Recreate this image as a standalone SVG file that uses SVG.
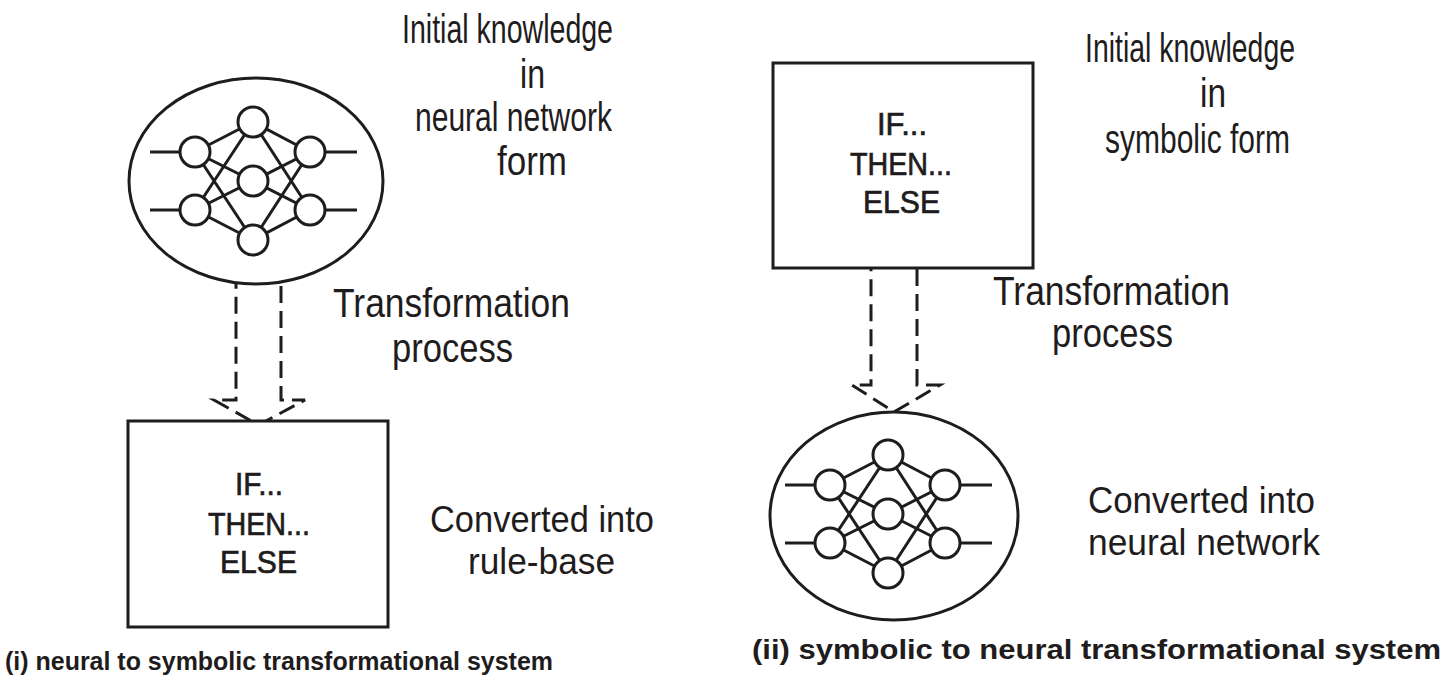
<svg xmlns="http://www.w3.org/2000/svg" xmlns:xlink="http://www.w3.org/1999/xlink" width="1444" height="688" viewBox="0 0 1444 688">
<style>
.ln{stroke:#1f1c1d;stroke-width:3;fill:none}
.nd{stroke:#1f1c1d;stroke-width:3;fill:#fff}
.sh{stroke:#1f1c1d;stroke-width:3;fill:#fff}
.ar{stroke:#1f1c1d;stroke-width:3;fill:none;stroke-dasharray:17 8;stroke-linejoin:miter}
.lb{font-family:"Liberation Sans",Arial,sans-serif;font-size:40px;fill:#1f1c1d}
.lc{font-family:"Liberation Sans",Arial,sans-serif;font-size:37px;fill:#1f1c1d}
.bx{font-family:"Liberation Sans",Arial,sans-serif;font-size:32px;fill:#1f1c1d;stroke:#1f1c1d;stroke-width:0.7}
.cp{font-family:"Liberation Sans",Arial,sans-serif;font-weight:bold;fill:#1f1c1d}
</style>
<defs>
<g id="net">
<g class="ln">
<line x1="150" y1="152" x2="181" y2="152"/>
<line x1="150" y1="210" x2="181" y2="210"/>
<line x1="324" y1="152" x2="357" y2="152"/>
<line x1="324" y1="210" x2="357" y2="210"/>
<line x1="195" y1="152" x2="253" y2="122"/>
<line x1="195" y1="152" x2="253" y2="181"/>
<line x1="195" y1="152" x2="253" y2="240"/>
<line x1="195" y1="210" x2="253" y2="122"/>
<line x1="195" y1="210" x2="253" y2="181"/>
<line x1="195" y1="210" x2="253" y2="240"/>
<line x1="310" y1="152" x2="253" y2="122"/>
<line x1="310" y1="152" x2="253" y2="181"/>
<line x1="310" y1="152" x2="253" y2="240"/>
<line x1="310" y1="210" x2="253" y2="122"/>
<line x1="310" y1="210" x2="253" y2="181"/>
<line x1="310" y1="210" x2="253" y2="240"/>
</g>
<g class="nd">
<circle cx="195" cy="152" r="15"/>
<circle cx="195" cy="210" r="15"/>
<circle cx="253" cy="122" r="15"/>
<circle cx="253" cy="181" r="15"/>
<circle cx="253" cy="240" r="15"/>
<circle cx="310" cy="152" r="15"/>
<circle cx="310" cy="210" r="15"/>
</g>
</g>
</defs>

<g id="connectors">
<path id="arrow-left" class="ar" d="M236,281 H281 V400 H305 L258.5,425 L214,400 H236 Z"/>
<path id="arrow-right" class="ar" d="M871,265 H917 V385 H940 L894,412 L852,385 H871 Z"/>
</g>

<g id="nn-left">
<ellipse class="sh" cx="256" cy="181" rx="127" ry="103"/>
<use xlink:href="#net"/>
</g>

<g id="rules-left">
<rect class="sh" x="128" y="421" width="260" height="206"/>
<text class="bx" x="235" y="495" textLength="48" lengthAdjust="spacingAndGlyphs">IF...</text>
<text class="bx" x="208" y="535" textLength="102" lengthAdjust="spacingAndGlyphs">THEN...</text>
<text class="bx" x="220" y="573" textLength="77" lengthAdjust="spacingAndGlyphs">ELSE</text>
</g>

<g id="rules-right">
<rect class="sh" x="773" y="63" width="260" height="205"/>
<text class="bx" x="877" y="135" textLength="50" lengthAdjust="spacingAndGlyphs">IF...</text>
<text class="bx" x="850" y="175" textLength="102" lengthAdjust="spacingAndGlyphs">THEN...</text>
<text class="bx" x="863" y="213" textLength="77" lengthAdjust="spacingAndGlyphs">ELSE</text>
</g>

<g id="nn-right">
<ellipse class="sh" cx="894" cy="516" rx="124" ry="104"/>
<use xlink:href="#net" transform="translate(635,333)"/>
</g>

<g id="labels-left">
<text class="lb" x="402" y="43" textLength="211" lengthAdjust="spacingAndGlyphs">Initial knowledge</text>
<text class="lb" x="520" y="88" textLength="25" lengthAdjust="spacingAndGlyphs">in</text>
<text class="lb" x="415" y="131" textLength="197" lengthAdjust="spacingAndGlyphs">neural network</text>
<text class="lb" x="497" y="175" textLength="70" lengthAdjust="spacingAndGlyphs">form</text>
<text class="lb" x="333" y="317" textLength="237" lengthAdjust="spacingAndGlyphs">Transformation</text>
<text class="lb" x="392" y="362" textLength="121" lengthAdjust="spacingAndGlyphs">process</text>
<text class="lc" x="430" y="532" textLength="224" lengthAdjust="spacingAndGlyphs">Converted into</text>
<text class="lc" x="468" y="574" textLength="147" lengthAdjust="spacingAndGlyphs">rule-base</text>
</g>

<g id="labels-right">
<text class="lb" x="1085" y="62" textLength="210" lengthAdjust="spacingAndGlyphs">Initial knowledge</text>
<text class="lb" x="1200" y="107" textLength="26" lengthAdjust="spacingAndGlyphs">in</text>
<text class="lb" x="1105" y="153" textLength="185" lengthAdjust="spacingAndGlyphs">symbolic form</text>
<text class="lb" x="993" y="305" textLength="237" lengthAdjust="spacingAndGlyphs">Transformation</text>
<text class="lb" x="1052" y="347" textLength="121" lengthAdjust="spacingAndGlyphs">process</text>
<text class="lc" x="1088" y="513" textLength="227" lengthAdjust="spacingAndGlyphs">Converted into</text>
<text class="lc" x="1088" y="555" textLength="232" lengthAdjust="spacingAndGlyphs">neural network</text>
</g>

<g id="captions">
<text class="cp" x="5" y="670" font-size="26" textLength="548" lengthAdjust="spacingAndGlyphs">(i)  neural to symbolic transformational system</text>
<text class="cp" x="752" y="659" font-size="28" textLength="689" lengthAdjust="spacingAndGlyphs">(ii)  symbolic to neural transformational system</text>
</g>
</svg>
